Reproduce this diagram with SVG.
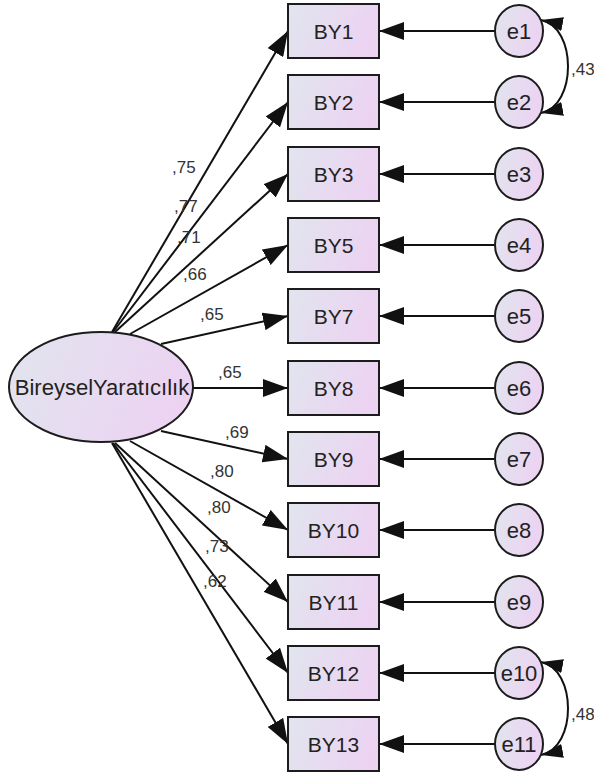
<svg xmlns="http://www.w3.org/2000/svg" width="594" height="777" viewBox="0 0 594 777">
<defs>
<linearGradient id="g" x1="0" y1="0" x2="1" y2="0.25">
<stop offset="0" stop-color="#e1e5ee"/>
<stop offset="1" stop-color="#ecd3f2"/>
</linearGradient>
<marker id="ah" markerUnits="userSpaceOnUse" markerWidth="26" markerHeight="18" refX="25" refY="9" orient="auto">
<path d="M0,0 L25,9 L0,18 z" fill="#111"/>
</marker>
<marker id="ch" markerUnits="userSpaceOnUse" markerWidth="24" markerHeight="14" refX="22" refY="7" orient="auto-start-reverse">
<path d="M0,0 L22,7 L0,14 z" fill="#111"/>
</marker>
<style>
.nd{fill:url(#g);stroke:#1c1c1c;stroke-width:2}
.lb{font-family:"Liberation Sans",Arial,sans-serif;font-size:21px;fill:#222;text-anchor:middle}
.le{font-family:"Liberation Sans",Arial,sans-serif;font-size:22px;fill:#222;text-anchor:middle}
.lt{font-family:"Liberation Sans",Arial,sans-serif;font-size:22px;fill:#222;text-anchor:middle}
.cf{font-family:"Liberation Sans",Arial,sans-serif;font-size:17px;fill:#333}
.ar{stroke:#111;stroke-width:2;fill:none;marker-end:url(#ah)}
.cv{stroke:#111;stroke-width:2;fill:none;marker-start:url(#ch);marker-end:url(#ch)}
</style>
</defs>

<g id="connectors">
<line class="ar" x1="112" y1="332" x2="288" y2="31"/>
<line class="ar" x1="113" y1="332" x2="288" y2="102"/>
<line class="ar" x1="115" y1="332" x2="288" y2="174"/>
<line class="ar" x1="130" y1="334" x2="288" y2="245"/>
<line class="ar" x1="161" y1="344" x2="288" y2="316"/>
<line class="ar" x1="193" y1="388" x2="288" y2="388"/>
<line class="ar" x1="161" y1="431" x2="288" y2="459"/>
<line class="ar" x1="130" y1="441" x2="288" y2="530"/>
<line class="ar" x1="115" y1="443" x2="288" y2="602"/>
<line class="ar" x1="113" y1="443" x2="288" y2="673"/>
<line class="ar" x1="112" y1="443" x2="288" y2="744"/>

<line class="ar" x1="495" y1="31" x2="379" y2="31"/>
<line class="ar" x1="495" y1="102" x2="379" y2="102"/>
<line class="ar" x1="495" y1="174" x2="379" y2="174"/>
<line class="ar" x1="495" y1="245" x2="379" y2="245"/>
<line class="ar" x1="495" y1="316" x2="379" y2="316"/>
<line class="ar" x1="495" y1="388" x2="379" y2="388"/>
<line class="ar" x1="495" y1="459" x2="379" y2="459"/>
<line class="ar" x1="495" y1="530" x2="379" y2="530"/>
<line class="ar" x1="495" y1="602" x2="379" y2="602"/>
<line class="ar" x1="495" y1="673" x2="379" y2="673"/>
<line class="ar" x1="495" y1="744" x2="379" y2="744"/>

<path class="cv" d="M541,20 C577,27 577,106 541,113"/>
<path class="cv" d="M541,662 C577,669 577,748 541,755"/>

<text class="cf" x="172" y="173">,75</text>
<text class="cf" x="174" y="212">,77</text>
<text class="cf" x="177" y="243">,71</text>
<text class="cf" x="183" y="280">,66</text>
<text class="cf" x="200" y="320">,65</text>
<text class="cf" x="218" y="378">,65</text>
<text class="cf" x="225" y="438">,69</text>
<text class="cf" x="210" y="477">,80</text>
<text class="cf" x="207" y="513">,80</text>
<text class="cf" x="205" y="552">,73</text>
<text class="cf" x="203" y="587">,62</text>
<text class="cf" x="571" y="75">,43</text>
<text class="cf" x="571" y="720">,48</text>
</g>

<g id="latent">
<ellipse class="nd" cx="101" cy="387" rx="92" ry="55"/>
<text class="lt" x="102" y="395">BireyselYaratıcılık</text>
</g>

<g id="BY1"><rect class="nd" x="288" y="4" width="91" height="54"/><text class="lb" x="333.5" y="39">BY1</text></g>
<g id="BY2"><rect class="nd" x="288" y="75" width="91" height="54"/><text class="lb" x="333.5" y="110">BY2</text></g>
<g id="BY3"><rect class="nd" x="288" y="147" width="91" height="54"/><text class="lb" x="333.5" y="182">BY3</text></g>
<g id="BY5"><rect class="nd" x="288" y="218" width="91" height="54"/><text class="lb" x="333.5" y="253">BY5</text></g>
<g id="BY7"><rect class="nd" x="288" y="289" width="91" height="54"/><text class="lb" x="333.5" y="324">BY7</text></g>
<g id="BY8"><rect class="nd" x="288" y="361" width="91" height="54"/><text class="lb" x="333.5" y="396">BY8</text></g>
<g id="BY9"><rect class="nd" x="288" y="432" width="91" height="54"/><text class="lb" x="333.5" y="467">BY9</text></g>
<g id="BY10"><rect class="nd" x="288" y="503" width="91" height="54"/><text class="lb" x="333.5" y="538">BY10</text></g>
<g id="BY11"><rect class="nd" x="288" y="575" width="91" height="54"/><text class="lb" x="333.5" y="610">BY11</text></g>
<g id="BY12"><rect class="nd" x="288" y="646" width="91" height="54"/><text class="lb" x="333.5" y="681">BY12</text></g>
<g id="BY13"><rect class="nd" x="288" y="717" width="91" height="54"/><text class="lb" x="333.5" y="752">BY13</text></g>

<g id="e1"><ellipse class="nd" cx="519" cy="31" rx="24" ry="26"/><text class="le" x="519" y="39">e1</text></g>
<g id="e2"><ellipse class="nd" cx="519" cy="102" rx="24" ry="26"/><text class="le" x="519" y="110">e2</text></g>
<g id="e3"><ellipse class="nd" cx="519" cy="174" rx="24" ry="26"/><text class="le" x="519" y="182">e3</text></g>
<g id="e4"><ellipse class="nd" cx="519" cy="245" rx="24" ry="26"/><text class="le" x="519" y="253">e4</text></g>
<g id="e5"><ellipse class="nd" cx="519" cy="316" rx="24" ry="26"/><text class="le" x="519" y="324">e5</text></g>
<g id="e6"><ellipse class="nd" cx="519" cy="388" rx="24" ry="26"/><text class="le" x="519" y="396">e6</text></g>
<g id="e7"><ellipse class="nd" cx="519" cy="459" rx="24" ry="26"/><text class="le" x="519" y="467">e7</text></g>
<g id="e8"><ellipse class="nd" cx="519" cy="530" rx="24" ry="26"/><text class="le" x="519" y="538">e8</text></g>
<g id="e9"><ellipse class="nd" cx="519" cy="602" rx="24" ry="26"/><text class="le" x="519" y="610">e9</text></g>
<g id="e10"><ellipse class="nd" cx="519" cy="673" rx="24" ry="26"/><text class="le" x="519" y="681">e10</text></g>
<g id="e11"><ellipse class="nd" cx="519" cy="744" rx="24" ry="26"/><text class="le" x="519" y="752">e11</text></g>
</svg>
